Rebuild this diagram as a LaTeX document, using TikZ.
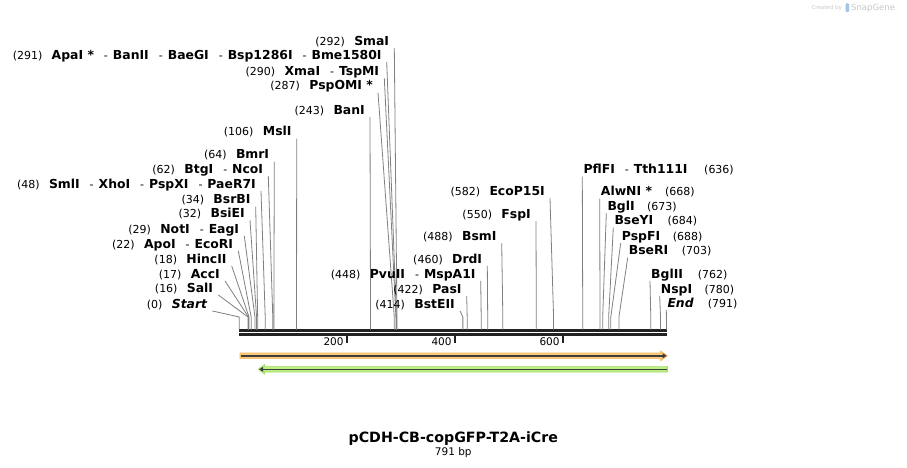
\documentclass[tikz,border=0pt]{standalone}
\usepackage{fontspec}
\setmainfont{DejaVu Sans}
\usetikzlibrary{arrows.meta}

\definecolor{cutgray}{RGB}{128,128,128}
\definecolor{barblack}{RGB}{34,34,34}
\definecolor{cdsorange}{RGB}{253,204,122}
\definecolor{cdsorangeedge}{RGB}{240,180,90}
\definecolor{cdsgreen}{RGB}{188,240,128}
\definecolor{cdsgreenedge}{RGB}{160,220,100}
\definecolor{featline}{RGB}{60,60,60}
\definecolor{markgray}{RGB}{200,200,200}
\definecolor{logoblue}{RGB}{160,195,230}

\newcommand{\enz}[1]{{\fontsize{12.4}{13}\selectfont\bfseries #1}}
\newcommand{\enzit}[1]{{\fontsize{12.4}{13}\selectfont\bfseries\itshape #1}}
\newcommand{\dsh}{\hspace{10pt}-\hspace{5pt}}

\tikzset{
  sitelabel/.style={font=\fontsize{11}{12}\selectfont, inner xsep=1pt, inner ysep=0pt,
    text height=9pt, text depth=2.5pt},
  cutline/.style={cutgray, line width=0.8pt},
  seqbar/.style={barblack, line width=2.7pt},
  seqtick/.style={barblack, line width=2pt},
  ticklabel/.style={font=\fontsize{10.5}{12}\selectfont, anchor=east, inner sep=0pt},
}

\begin{document}
\begin{tikzpicture}[x=1pt,y=-1pt]
  \useasboundingbox (0,0) rectangle (907,468);
  \fill[white] (0,0) rectangle (907,468);

  % sequence bar, 0..791 bp
  \coordinate (seq0) at (239.3,330.3);
  \coordinate (seq1) at (666.7,330.3);
  \draw[seqbar] (seq0) -- (seq1);
  \draw[seqbar] ([yshift=-4pt]seq0) -- ([yshift=-4pt]seq1);

  \foreach \t in {200,400,600} {
    \coordinate (tick\t) at (239.3+0.54*\t,335);
    \draw[seqtick] (tick\t) -- ++(0,8);
    \node[ticklabel] (ticklbl\t) at (239.3+0.54*\t-3.5,342) {\t};
  }

  % sites labelled on the left of their line
  \foreach \id/\lx/\ly/\bp/\txt in {
      smai/389.3/42.3/292/{\enz{SmaI}},
      apai/381.7/56/291/{\enz{ApaI *}\dsh\enz{BanII}\dsh\enz{BaeGI}\dsh\enz{Bsp1286I}\dsh\enz{Bme1580I}},
      xmai/379.3/72.3/290/{\enz{XmaI}\dsh\enz{TspMI}},
      pspomi/373/86.7/287/{\enz{PspOMI *}},
      bani/365/111/243/{\enz{BanI}},
      msli/291.7/132.7/106/{\enz{MslI}},
      bmri/269.3/155.7/64/{\enz{BmrI}},
      btgi/263.3/170/62/{\enz{BtgI}\dsh\enz{NcoI}},
      smli/256/185/48/{\enz{SmlI}\dsh\enz{XhoI}\dsh\enz{PspXI}\dsh\enz{PaeR7I}},
      bsrbi/250.7/200.7/34/{\enz{BsrBI}},
      bsiei/245/214.3/32/{\enz{BsiEI}},
      noti/239.3/230/29/{\enz{NotI}\dsh\enz{EagI}},
      apoi/233.3/245/22/{\enz{ApoI}\dsh\enz{EcoRI}},
      hincii/226.7/260/18/{\enz{HincII}},
      acci/220/275/17/{\enz{AccI}},
      sali/213.3/289/16/{\enz{SalI}},
      start/207.3/305/0/{\enzit{Start}},
      ecop/545/192.3/582/{\enz{EcoP15I}},
      fspi/531/215/550/{\enz{FspI}},
      bsmi/496.7/237.3/488/{\enz{BsmI}},
      drdi/482.3/260/460/{\enz{DrdI}},
      pvuii/475.7/275/448/{\enz{PvuII}\dsh\enz{MspA1I}},
      pasi/461.7/290/422/{\enz{PasI}},
      bsteii/455/305/414/{\enz{BstEII}}} {
    \node[sitelabel, anchor=east] (\id) at (\lx+1,\ly) {\txt};
    \node[sitelabel, anchor=east] (\id-pos) at ([xshift=-7pt]\id.west) {(\bp)};
    \coordinate (\id-bend) at (239.3+0.54*\bp,317);
    \coordinate (\id-cut) at (239.3+0.54*\bp,329.5);
    \draw[cutline] ([xshift=4pt]\id.south east) -- (\id-bend) -- (\id-cut);
  }

  % sites labelled on the right of their line
  \foreach \id/\lx/\ly/\bp/\nx/\txt in {
      pflfi/583.3/170.7/636/704/{\enz{PflFI}\dsh\enz{Tth111I}},
      alwni/600.7/192.7/668/665/{\enz{AlwNI *}},
      bgli/607.3/207.3/673/647/{\enz{BglI}},
      bseyi/614.3/221.7/684/667.3/{\enz{BseYI}},
      pspfi/621.7/237.3/688/672.7/{\enz{PspFI}},
      bseri/628.7/251.7/703/681.7/{\enz{BseRI}},
      bglii/651/275/762/697.7/{\enz{BglII}},
      nspi/660.7/290/780/704.3/{\enz{NspI}},
      end/667.3/304/791/707.7/{\enzit{End}}} {
    \node[sitelabel, anchor=west] (\id) at (\lx-1,\ly) {\txt};
    \node[sitelabel, anchor=west] (\id-pos) at (\nx-1,\ly) {(\bp)};
    \coordinate (\id-bend) at (239.3+0.54*\bp,317);
    \coordinate (\id-cut) at (239.3+0.54*\bp,329.5);
    \draw[cutline] (\id.south west) -- (\id-bend) -- (\id-cut);
  }

  % features
  \filldraw[fill=cdsorange, draw=cdsorangeedge, line width=0.6pt]
    (240,353) -- (660.7,353) -- (660.7,351) -- (667.5,355.8) -- (660.7,360.7)
    -- (660.7,358.6) -- (240,358.6) -- cycle;
  \draw[featline, line width=1.5pt, -{Triangle[length=4pt,width=5pt]}]
    (241,355.8) -- (666.5,355.8);

  \filldraw[fill=cdsgreen, draw=cdsgreenedge, line width=0.6pt]
    (667.5,366.6) -- (264.5,366.6) -- (264.5,364.6) -- (258.2,369.3) -- (264.5,374)
    -- (264.5,372) -- (667.5,372) -- cycle;
  \draw[featline, line width=1.5pt, -{Triangle[length=4pt,width=5pt]}]
    (666.5,369.3) -- (259.2,369.3);

  % title
  \node[font=\fontsize{14.2}{16}\selectfont\bfseries] (title) at (453.3,438.3) {pCDH-CB-copGFP-T2A-iCre};
  \node[font=\fontsize{10.5}{12}\selectfont] (length) at (453.3,452.7) {791 bp};

  % watermark
  \node[font=\fontsize{5.5}{6}\selectfont, text=markgray, anchor=east, inner sep=0pt] (created) at (842,8) {Created by};
  \fill[logoblue, rounded corners=0.8pt] (845.5,3.5) rectangle (849,12);
  \node[font=\fontsize{8.5}{9}\selectfont, text=markgray, anchor=west, inner sep=0pt] (snapgene) at (851,8) {SnapGene};
\end{tikzpicture}
\end{document}
